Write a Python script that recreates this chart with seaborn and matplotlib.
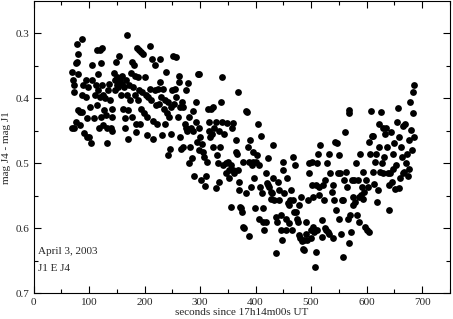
import numpy as np
import pandas as pd
import matplotlib
matplotlib.use("Agg")
import matplotlib.pyplot as plt
import seaborn as sns

# seconds since 17h14m00s UT
secs = [70, 73, 70, 72, 73, 73, 77, 78, 79, 80, 80, 81, 84, 87, 77, 84, 87, 90, 88, 91,
        94, 94, 97, 97, 100, 99, 101, 103, 106, 106, 109, 111, 113, 114, 115, 116, 117, 119, 118, 120,
        121, 123, 122, 123, 126, 126, 127, 129, 131, 132, 133, 135, 136, 138, 139, 141, 141, 142, 145, 146,
        146, 148, 150, 151, 153, 154, 156, 157, 159, 160, 162, 163, 165, 165, 166, 169, 169, 170, 171, 172,
        173, 176, 177, 178, 180, 181, 183, 183, 184, 185, 187, 188, 188, 190, 190, 191, 194, 194, 196, 198,
        199, 201, 203, 204, 205, 206, 209, 210, 212, 214, 215, 216, 218, 218, 220, 223, 224, 226, 227, 228,
        230, 232, 233, 235, 237, 237, 239, 240, 242, 242, 244, 245, 247, 248, 250, 251, 253, 254, 256, 257,
        260, 262, 262, 263, 264, 266, 268, 269, 270, 272, 274, 275, 276, 278, 280, 281, 282, 284, 285, 287,
        288, 290, 292, 293, 295, 296, 298, 298, 299, 300, 302, 304, 305, 308, 309, 311, 313, 314, 316, 317,
        318, 320, 322, 323, 324, 326, 328, 329, 330, 332, 334, 335, 336, 338, 340, 340, 342, 344, 346, 347,
        349, 350, 352, 353, 355, 356, 358, 359, 360, 362, 364, 365, 367, 368, 368, 370, 371, 372, 374, 375,
        377, 378, 380, 382, 383, 384, 386, 388, 389, 390, 392, 394, 395, 396, 398, 399, 400, 402, 404, 406,
        407, 408, 410, 412, 413, 414, 416, 418, 419, 420, 422, 423, 425, 427, 428, 430, 431, 432, 434, 436,
        437, 439, 440, 442, 443, 445, 446, 448, 449, 450, 452, 454, 455, 456, 458, 460, 461, 462, 464, 466,
        467, 468, 469, 471, 473, 474, 476, 478, 479, 480, 482, 484, 485, 487, 488, 490, 491, 493, 494, 496,
        497, 499, 500, 501, 502, 503, 504, 506, 507, 508, 509, 510, 511, 513, 514, 515, 517, 519, 520, 521,
        523, 525, 526, 527, 529, 531, 532, 533, 535, 537, 539, 540, 542, 544, 545, 546, 548, 550, 551, 552,
        554, 556, 557, 558, 560, 562, 563, 564, 566, 568, 569, 569, 570, 572, 574, 575, 576, 578, 580, 581,
        582, 584, 586, 587, 588, 590, 592, 593, 594, 596, 598, 599, 600, 602, 604, 605, 606, 608, 610, 611,
        612, 614, 616, 617, 618, 620, 622, 623, 625, 626, 628, 629, 630, 632, 634, 635, 636, 638, 640, 641,
        642, 644, 646, 647, 648, 650, 651, 653, 654, 656, 658, 659, 660, 662, 664, 665, 666, 668, 670, 671,
        672, 674, 676, 677, 678, 680, 681, 683, 684, 685, 685]

# mag J4 - mag J1
dmag = [0.446, 0.446, 0.360, 0.371, 0.379, 0.390, 0.346, 0.344, 0.316, 0.332, 0.363, 0.418, 0.421, 0.309, 0.436, 0.441, 0.394, 0.380, 0.421, 0.453,
        0.372, 0.397, 0.430, 0.459, 0.459, 0.382, 0.413, 0.469, 0.349, 0.372, 0.430, 0.394, 0.380, 0.326, 0.410, 0.387, 0.363, 0.397, 0.445, 0.326,
        0.428, 0.323, 0.346, 0.380, 0.394, 0.441, 0.418, 0.400, 0.426, 0.469, 0.445, 0.387, 0.377, 0.403, 0.445, 0.450, 0.428, 0.416, 0.361, 0.372,
        0.387, 0.344, 0.380, 0.367, 0.382, 0.335, 0.372, 0.394, 0.377, 0.365, 0.416, 0.382, 0.430, 0.445, 0.372, 0.302, 0.394, 0.418, 0.462, 0.380,
        0.403, 0.361, 0.344, 0.428, 0.382, 0.349, 0.365, 0.394, 0.440, 0.451, 0.323, 0.367, 0.403, 0.326, 0.387, 0.440, 0.328, 0.416, 0.390, 0.331,
        0.423, 0.367, 0.394, 0.428, 0.456, 0.397, 0.319, 0.385, 0.403, 0.339, 0.462, 0.435, 0.349, 0.387, 0.410, 0.440, 0.385, 0.408, 0.339, 0.375,
        0.397, 0.456, 0.385, 0.416, 0.403, 0.440, 0.360, 0.423, 0.487, 0.405, 0.428, 0.477, 0.454, 0.413, 0.387, 0.335, 0.408, 0.385, 0.336, 0.397,
        0.428, 0.375, 0.365, 0.459, 0.413, 0.477, 0.405, 0.413, 0.474, 0.440, 0.445, 0.387, 0.450, 0.376, 0.428, 0.500, 0.474, 0.445, 0.492, 0.420,
        0.450, 0.520, 0.405, 0.436, 0.467, 0.362, 0.362, 0.480, 0.445, 0.459, 0.525, 0.470, 0.482, 0.490, 0.535, 0.520, 0.497, 0.416, 0.450, 0.436,
        0.459, 0.416, 0.454, 0.413, 0.474, 0.445, 0.436, 0.538, 0.487, 0.500, 0.528, 0.450, 0.474, 0.405, 0.367, 0.436, 0.503, 0.454, 0.500, 0.515,
        0.438, 0.497, 0.510, 0.523, 0.567, 0.503, 0.445, 0.438, 0.510, 0.515, 0.464, 0.482, 0.485, 0.390, 0.510, 0.541, 0.528, 0.567, 0.569, 0.574,
        0.497, 0.597, 0.600, 0.546, 0.419, 0.421, 0.474, 0.497, 0.612, 0.464, 0.536, 0.503, 0.482, 0.497, 0.523, 0.569, 0.497, 0.487, 0.440, 0.586,
        0.503, 0.536, 0.457, 0.546, 0.590, 0.569, 0.602, 0.590, 0.515, 0.530, 0.533, 0.492, 0.536, 0.554, 0.544, 0.546, 0.523, 0.471, 0.556, 0.638,
        0.582, 0.590, 0.528, 0.541, 0.556, 0.579, 0.602, 0.618, 0.510, 0.497, 0.546, 0.585, 0.602, 0.523, 0.561, 0.592, 0.564, 0.556, 0.541, 0.602,
        0.556, 0.490, 0.574, 0.503, 0.574, 0.585, 0.590, 0.564, 0.610, 0.615, 0.551, 0.620, 0.631, 0.618, 0.633, 0.590, 0.608, 0.618, 0.556, 0.500,
        0.515, 0.602, 0.615, 0.533, 0.497, 0.597, 0.551, 0.605, 0.659, 0.636, 0.533, 0.602, 0.500, 0.485, 0.536, 0.549, 0.472, 0.587, 0.613, 0.533,
        0.556, 0.600, 0.526, 0.602, 0.500, 0.605, 0.485, 0.608, 0.515, 0.544, 0.533, 0.615, 0.556, 0.467, 0.572, 0.469, 0.515, 0.585, 0.487, 0.515,
        0.608, 0.556, 0.556, 0.644, 0.526, 0.451, 0.513, 0.536, 0.585, 0.418, 0.423, 0.623, 0.579, 0.605, 0.526, 0.551, 0.564, 0.526, 0.559, 0.499,
        0.579, 0.526, 0.551, 0.590, 0.485, 0.549, 0.536, 0.513, 0.554, 0.544, 0.597, 0.526, 0.602, 0.536, 0.605, 0.467, 0.485, 0.419, 0.457, 0.513,
        0.457, 0.531, 0.497, 0.485, 0.559, 0.541, 0.440, 0.474, 0.513, 0.421, 0.500, 0.446, 0.515, 0.490, 0.454, 0.446, 0.474, 0.515, 0.572, 0.533,
        0.515, 0.451, 0.528, 0.485, 0.508, 0.469, 0.539, 0.503, 0.436, 0.414, 0.538, 0.459, 0.523, 0.474, 0.490, 0.515, 0.442, 0.513, 0.440, 0.500,
        0.485, 0.519, 0.464, 0.508, 0.405, 0.449, 0.479, 0.423, 0.390, 0.459, 0.380]

df = pd.DataFrame({"secs": secs, "dmag": dmag})

sns.set_style("ticks")
plt.rcParams["font.family"] = ["Liberation Serif", "DejaVu Serif"]

fig = plt.figure(figsize=(4.53, 3.19), dpi=100)
ax = fig.add_axes([0.074, 0.080, 0.919, 0.917])

sns.scatterplot(data=df, x="secs", y="dmag", color="black", s=24, linewidth=0, ax=ax)

ax.set_xlim(0, 750)
ax.set_ylim(0.7, 0.25)
ax.set_xticks(np.arange(0, 701, 100))
ax.set_xticks(np.arange(50, 751, 100), minor=True)
ax.set_yticks([0.3, 0.4, 0.5, 0.6, 0.7])
ax.set_yticklabels(["0.3", "0.4", "0.5", "0.6", "0.7"])
ax.set_yticks(np.arange(0.25, 0.70, 0.1)[1:] if False else [0.35, 0.45, 0.55, 0.65], minor=True)
ax.tick_params(which="both", direction="in", top=True, right=True, labelsize=8, color="black", width=0.8)
ax.tick_params(which="major", length=5, pad=3)
ax.tick_params(which="minor", length=3)
for sp in ax.spines.values():
    sp.set_visible(True)
    sp.set_linewidth(0.8)
    sp.set_color("black")

ax.set_xlabel("seconds since 17h14m00s UT", fontsize=8, labelpad=1)
ax.set_ylabel("mag J4 - mag J1", fontsize=8, labelpad=3)

ax.text(0.011, 0.142, "April 3, 2003", transform=ax.transAxes, fontsize=8, va="center")
ax.text(0.011, 0.087, "J1 E J4", transform=ax.transAxes, fontsize=8, va="center")

fig.savefig("out.png", dpi=100)
